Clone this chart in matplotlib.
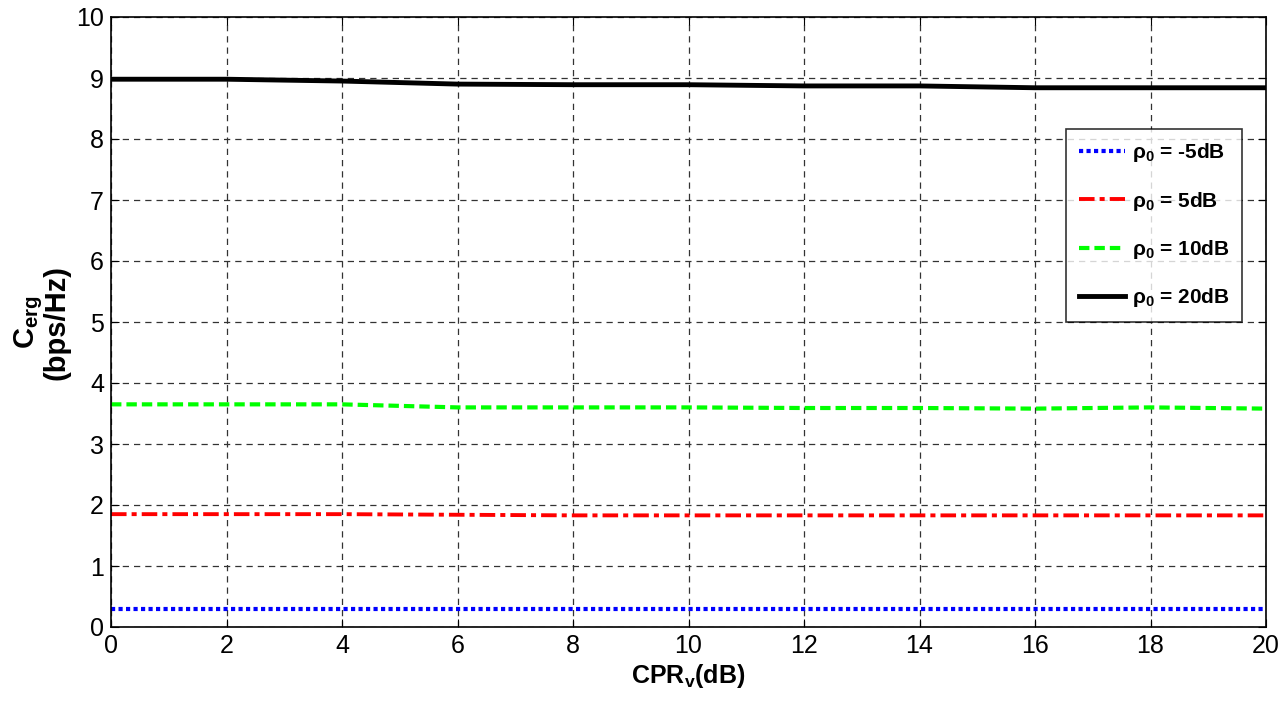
import numpy as np
import matplotlib
matplotlib.use('Agg')
from matplotlib import pyplot as plt

plt.rcParams['font.family'] = ['Liberation Sans', 'DejaVu Sans']
plt.rcParams['mathtext.fontset'] = 'custom'
plt.rcParams['mathtext.rm'] = 'Liberation Sans'
plt.rcParams['mathtext.bf'] = 'Liberation Sans:bold'

# CPR_v (dB) sample points
cpr_db = [0, 2, 4, 6, 8, 10, 12, 14, 16, 18, 20]

# Ergodic capacity (bps/Hz)
cap_m5db = [0.30, 0.30, 0.30, 0.30, 0.30, 0.30, 0.30, 0.30, 0.30, 0.30, 0.30]
cap_5db = [1.85, 1.85, 1.85, 1.84, 1.83, 1.83, 1.83, 1.83, 1.83, 1.83, 1.83]
cap_10db = [3.65, 3.65, 3.65, 3.60, 3.60, 3.60, 3.59, 3.59, 3.58, 3.60, 3.58]
cap_20db = [8.98, 8.98, 8.95, 8.90, 8.89, 8.89, 8.87, 8.87, 8.84, 8.84, 8.84]

labels = [r'$\mathbf{\rho_0}$ = -5dB', r'$\mathbf{\rho_0}$ = 5dB',
          r'$\mathbf{\rho_0}$ = 10dB', r'$\mathbf{\rho_0}$ = 20dB']

fig = plt.figure(figsize=(12.86, 7.01), dpi=100)
ax = fig.add_axes([111 / 1286, 1 - 627 / 701, (1266 - 111) / 1286, (627 - 17) / 701])

ax.plot(cpr_db, cap_m5db, color='#0000ff', lw=3, ls=(0, (1, 0.8)), label=labels[0])
ax.plot(cpr_db, cap_5db, color='#ff0000', lw=2.8, ls=(0, (4, 1.3, 1.3, 1.3)), label=labels[1])
ax.plot(cpr_db, cap_10db, color='#00ff00', lw=3, ls=(0, (2.5, 1.2)), label=labels[2])
ax.plot(cpr_db, cap_20db, color='black', lw=3.5, ls='-', label=labels[3])

ax.set_xlim(0, 20)
ax.set_ylim(0, 10)
ax.set_xticks(np.arange(0, 21, 2))
ax.set_yticks(np.arange(0, 11, 1))
ax.tick_params(direction='in', top=True, right=True, labelsize=18, length=6, pad=5)
ax.grid(True, color='0.2', ls=(0, (5, 4)), lw=0.9)
for s in ax.spines.values():
    s.set_linewidth(1.2)

ax.set_xlabel(r'CPR$_\mathbf{v}$(dB)', fontsize=18, fontweight='bold', labelpad=3)
ax.set_ylabel('C$_\\mathbf{erg}$\n(bps/Hz)', fontsize=21, fontweight='bold',
              linespacing=0.9, labelpad=4)

leg = ax.legend(loc='upper left', bbox_to_anchor=(0.827, 0.817),
                prop={'weight': 'bold', 'size': 15}, frameon=True, fancybox=False,
                edgecolor='black', handlelength=2.2, labelspacing=1.22,
                borderpad=0.6, handletextpad=0.35, borderaxespad=0)
leg.get_frame().set_linewidth(1.2)

fig.savefig('out.png', dpi=100)
